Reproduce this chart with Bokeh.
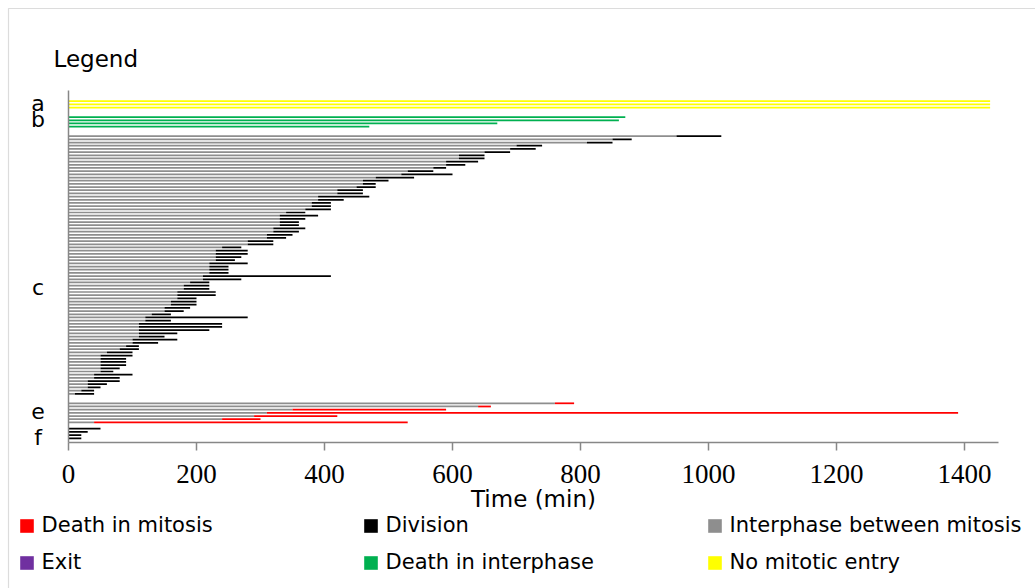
from bokeh.plotting import figure
from bokeh.models import (Range1d, FixedTicker, Label, Legend, LegendItem,
                          ColumnDataSource, BoxAnnotation)
from bokeh.embed import file_html
from bokeh.resources import INLINE

# ---------------- data (minutes) ----------------
# a: no mitotic entry
a_end = [1440, 1440, 1440]
# b: death in interphase
b_end = [870, 860, 670, 470]
# c: interphase end / division end
c_interphase = [950, 850, 810, 700, 690, 650, 610, 610, 590, 590,
                570, 530, 520, 480, 460, 460, 450, 420, 420, 390,
                390, 380, 380, 370, 340, 330, 330, 330, 330, 320,
                320, 310, 310, 280, 280, 240, 230, 230, 230, 230,
                220, 220, 220, 220, 210, 210, 190, 180, 180, 170,
                170, 170, 160, 160, 150, 150, 130, 120, 120, 110,
                110, 110, 110, 110, 100, 100, 90, 80, 60, 50,
                50, 50, 50, 50, 50, 40, 40, 30, 30, 30,
                20, 10]
c_division_end = [1020, 880, 850, 740, 730, 690, 650, 650, 640, 620,
                  590, 570, 600, 540, 500, 480, 480, 460, 460, 470,
                  430, 410, 410, 410, 370, 390, 370, 360, 360, 370,
                  360, 350, 340, 320, 320, 270, 280, 280, 270, 260,
                  280, 250, 250, 250, 410, 270, 220, 220, 220, 230,
                  230, 200, 200, 200, 190, 180, 160, 280, 160, 240,
                  240, 220, 170, 150, 170, 140, 110, 110, 100, 100,
                  90, 90, 90, 80, 70, 100, 80, 80, 60, 50,
                  40, 40]
# e: death in mitosis
e_interphase = [760, 640, 350, 310, 290, 240, 40]
e_death_end = [790, 660, 590, 1390, 420, 300, 530]
# f: early division
f_division_end = [50, 30, 20, 20]
# exit: no cells in this category (placeholder only, draws nothing)
exit_end = [float("nan")]

group_labels = ["a", "b", "c", "e", "f"]
legend_labels = ["Death in mitosis", "Division", "Interphase between mitosis",
                 "Exit", "Death in interphase", "No mitotic entry"]
x_ticks = [0, 200, 400, 600, 800, 1000, 1200, 1400]
x_axis_max = 1453

# ---------------- row layout ----------------
gaps = [0, 2, 2, 2, 1]
sizes = [len(a_end), len(b_end), len(c_interphase), len(e_interphase), len(f_division_end)]
starts = []
pos = 0
for g, s in zip(gaps, sizes):
    pos += g
    starts.append(pos)
    pos += s
rows = [list(range(st, st + s)) for st, s in zip(starts, sizes)]
ya, yb, yc, ye, yf = rows

# ---------------- geometry (canvas pixels -> data) ----------------
W, HGT = 1035, 588
X0_PX, PX_PER_MIN = 68.0, 0.64
ROW0_PX, ROW_PITCH = 100.7, 3.18
AXIS_TOP_PX, AXIS_BOTTOM_PX = 90.0, 442.0


def px2x(px):
    return (px - X0_PX) / PX_PER_MIN


def px2y(py):
    return (py - ROW0_PX) / ROW_PITCH


RED, BLACK, GRAY, PURPLE, GREEN, YELLOW = "#ff0000", "#000000", "#8e8e8e", "#7030a0", "#00b050", "#ffff00"

p = figure(width=W, height=HGT, output_backend="svg", toolbar_location=None,
           x_range=Range1d(px2x(0), px2x(W)), y_range=Range1d(px2y(HGT), px2y(0)),
           min_border=0)
p.min_border_left = 0
p.min_border_right = 0
p.min_border_top = 0
p.min_border_bottom = 0
p.outline_line_color = None
p.xgrid.visible = False
p.ygrid.visible = False
p.background_fill_color = "white"
p.border_fill_color = "white"

H = 0.55
src_gray = ColumnDataSource(dict(y=yc + ye, left=[0] * (len(yc) + len(ye)), right=c_interphase + e_interphase))
src_black = ColumnDataSource(dict(y=yc + yf, left=c_interphase + [0] * len(yf), right=c_division_end + f_division_end))
src_red = ColumnDataSource(dict(y=ye, left=e_interphase, right=e_death_end))
src_green = ColumnDataSource(dict(y=yb, left=[0] * len(yb), right=b_end))
src_yellow = ColumnDataSource(dict(y=ya, left=[0] * len(ya), right=a_end))
src_purple = ColumnDataSource(dict(y=exit_end, left=exit_end, right=exit_end))

r_gray = p.hbar(y="y", left="left", right="right", height=H, source=src_gray, fill_color=GRAY, line_color=None)
r_black = p.hbar(y="y", left="left", right="right", height=H, source=src_black, fill_color=BLACK, line_color=None)
r_red = p.hbar(y="y", left="left", right="right", height=H, source=src_red, fill_color=RED, line_color=None)
r_green = p.hbar(y="y", left="left", right="right", height=H, source=src_green, fill_color=GREEN, line_color=None)
r_yellow = p.hbar(y="y", left="left", right="right", height=H, source=src_yellow, fill_color=YELLOW, line_color=None)
r_purple = p.hbar(y="y", left="left", right="right", height=H, source=src_purple, fill_color=PURPLE, line_color=None)

AX = "#878787"
y_axis_bottom = px2y(AXIS_BOTTOM_PX)
y_axis_top = px2y(AXIS_TOP_PX)

xa = p.xaxis[0]
xa.fixed_location = y_axis_bottom
xa.bounds = (0, x_axis_max)
xa.ticker = FixedTicker(ticks=x_ticks)
xa.axis_line_color = AX
xa.axis_line_width = 1.5
xa.major_tick_line_color = AX
xa.major_tick_line_width = 1.5
xa.major_tick_out = 8
xa.major_tick_in = 0
xa.minor_tick_line_color = None
xa.major_label_text_font = "Liberation Serif"
xa.major_label_text_font_size = "27px"
xa.major_label_text_color = "#000000"
xa.major_label_standoff = 14
xa.axis_label = "Time (min)"
xa.axis_label_text_font = "DejaVu Sans"
xa.axis_label_text_font_size = "23px"
xa.axis_label_text_font_style = "normal"
xa.axis_label_text_color = "#000000"
xa.axis_label_standoff = 0

yax = p.yaxis[0]
yax.fixed_location = 0
yax.bounds = (y_axis_top, y_axis_bottom)
yax.ticker = FixedTicker(ticks=[])
yax.axis_line_color = AX
yax.axis_line_width = 1.5
yax.major_tick_line_color = None
yax.minor_tick_line_color = None
yax.major_label_text_font_size = "0px"

# group letters (left of the category axis)
letter_px = [103, 119, 287, 410, 437]
for t, py in zip(group_labels, letter_px):
    p.add_layout(Label(x=px2x(37.5), y=px2y(py), text=t,
                       text_font="DejaVu Sans", text_font_size="22px", text_color="#000000",
                       text_align="center", text_baseline="middle"))

p.add_layout(Label(x=px2x(53), y=px2y(58), text="Legend",
                   text_font="DejaVu Sans", text_font_size="23px", text_color="#000000",
                   text_align="left", text_baseline="middle"))

legend = Legend(items=[
    LegendItem(label=legend_labels[0], renderers=[r_red]),
    LegendItem(label=legend_labels[1], renderers=[r_black]),
    LegendItem(label=legend_labels[2], renderers=[r_gray]),
    LegendItem(label=legend_labels[3], renderers=[r_purple]),
    LegendItem(label=legend_labels[4], renderers=[r_green]),
    LegendItem(label=legend_labels[5], renderers=[r_yellow]),
], location=(17.6, HGT - 574.8), orientation="horizontal", ncols=3)
legend.padding = 0
legend.margin = 0
legend.border_line_color = None
legend.background_fill_alpha = 0
legend.glyph_width = 17
legend.glyph_height = 17
legend.label_standoff = 7
legend.label_width = 308
legend.label_height = 25
legend.spacing = 12
legend.label_text_font = "DejaVu Sans"
legend.label_text_font_size = "21px"
legend.label_text_color = "#000000"
p.add_layout(legend, "center")

border = BoxAnnotation(left=px2x(8), right=px2x(W + 50), top=px2y(8), bottom=px2y(HGT + 50),
                       fill_alpha=0, line_color="#8a8a8a", line_width=1.2)
p.add_layout(border)

open("out.html", "w").write(file_html(p, INLINE))
